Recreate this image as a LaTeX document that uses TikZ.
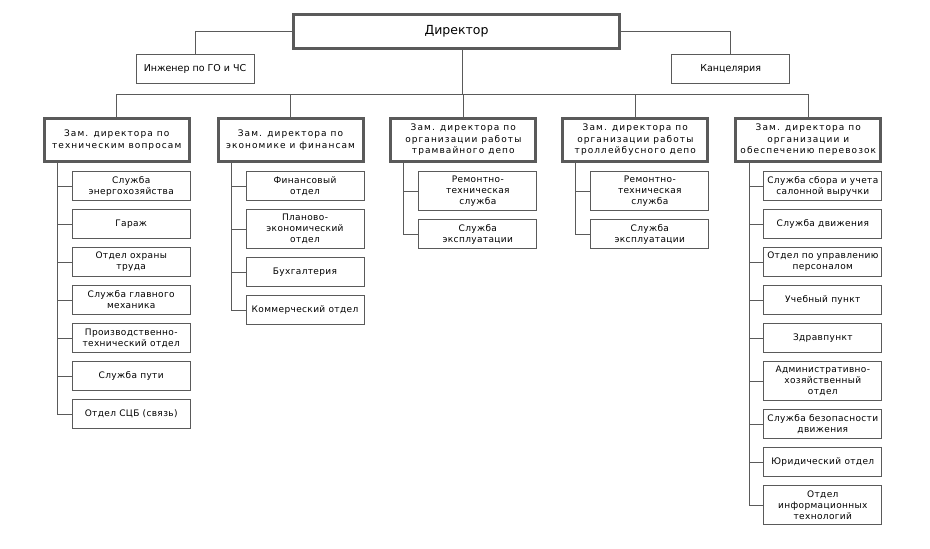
\documentclass[tikz,border=0pt]{standalone}
\usepackage{fontspec}
\setmainfont{DejaVu Sans}
\newfontfamily\depfont{DejaVu Sans}[LetterSpace=12]
\newfontfamily\subfont{DejaVu Sans}[LetterSpace=4]
\usepackage{tikz}
\definecolor{linegray}{HTML}{5A5A5A}

\begin{document}
\begin{tikzpicture}
[x=1pt, y=-1pt, line width=1pt, draw=linegray,
 every node/.style={font=\subfont\fontsize{9}{11}\selectfont, align = center, inner sep=0pt},
 top/.style={draw=linegray, line width=3pt, minimum width=326pt, minimum height=34pt, font=\fontsize{12.5}{14}\selectfont},
 side/.style={draw=linegray, minimum width=118pt, minimum height=29pt, font=\fontsize{9.5}{11}\selectfont},
 dep/.style={draw=linegray, line width=3pt, minimum width=145pt, minimum height=43pt, font=\depfont\fontsize{9}{11.5}\selectfont},
 sub/.style={draw=linegray, minimum width=118pt, minimum height=29pt},
 subtall/.style={sub, minimum height=39pt}]
\fill [white] (0,0) rectangle (930,549);
\node (0) at (456.5,31.3) [top] {Директор};
\node (6) at (195,69.3) [side] {Инженер по ГО и ЧС};
\node (7) at (730.7,69.3) [side] {Канцелярия};
\node (1) at (116.7,139.9) [dep] {Зам. директора по\\
                                  техническим вопросам};
\node (2) at (290.5,139.9) [dep] {Зам. директора по\\
                                  экономике и финансам};
\node (3) at (463.3,139.9) [dep] {Зам. директора по\\
                                  организации работы\\
                                  трамвайного депо};
\node (4) at (635.3,139.9) [dep] {Зам. директора по\\
                                  организации работы\\
                                  троллейбусного депо};
\node (5) at (808.3,139.9) [dep] {Зам. директора по\\
                                  организации и\\
                                  обеспечению перевозок};
% technical
\node (11) at (131.2,186) [sub] {Служба\\ энергохозяйства};
\node (12) at (131.2,224) [sub] {Гараж};
\node (13) at (131.2,262) [sub] {Отдел охраны\\ труда};
\node (14) at (131.2,300) [sub] {Служба главного\\ механика};
\node (15) at (131.2,338) [sub] {Производственно-\\ технический отдел};
\node (16) at (131.2,376) [sub] {Служба пути};
\node (17) at (131.2,414) [sub] {Отдел СЦБ (связь)};
% economics
\node (21) at (305,186) [sub] {Финансовый\\ отдел};
\node (22) at (305,229) [subtall] {Планово-\\ экономический\\ отдел};
\node (23) at (305,272) [sub] {Бухгалтерия};
\node (24) at (305,310) [sub] {Коммерческий отдел};
% tram depot
\node (31) at (477.8,191) [subtall] {Ремонтно-\\ техническая\\ служба};
\node (32) at (477.8,234) [sub] {Служба\\ эксплуатации};
% trolleybus depot
\node (41) at (649.8,191) [subtall] {Ремонтно-\\ техническая\\ служба};
\node (42) at (649.8,234) [sub] {Служба\\ эксплуатации};
% transport
\node (51) at (822.8,186) [sub] {Служба сбора и учета\\ салонной выручки};
\node (52) at (822.8,224) [sub] {Служба движения};
\node (53) at (822.8,262) [sub] {Отдел по управлению\\ персоналом};
\node (54) at (822.8,300) [sub] {Учебный пункт};
\node (55) at (822.8,338) [sub] {Здравпункт};
\node (56) at (822.8,381) [subtall] {Административно-\\ хозяйственный\\ отдел};
\node (57) at (822.8,424) [sub] {Служба безопасности\\ движения};
\node (58) at (822.8,462) [sub] {Юридический отдел};
\node (59) at (822.8,505) [subtall] {Отдел\\ информационных\\ технологий};
% top level lines
\coordinate (bus) at (462,94.3);
\draw (0) -| (6);
\draw (0) -| (7);
\draw (0.south -| bus) -- (bus);
\draw (1) |- (bus) -| (5);
\draw (2) -- (2 |- bus);
\draw (3) -- (3 |- bus);
\draw (4) -- (4 |- bus);
% branch lines
\coordinate (1a) at ([xshift=15pt]1.south west);
\coordinate (2a) at ([xshift=15pt]2.south west);
\coordinate (3a) at ([xshift=14pt]3.south west);
\coordinate (4a) at ([xshift=14pt]4.south west);
\coordinate (5a) at ([xshift=15pt]5.south west);
\draw (1a) |- (11);
\draw (1a) |- (12);
\draw (1a) |- (13);
\draw (1a) |- (14);
\draw (1a) |- (15);
\draw (1a) |- (16);
\draw (1a) |- (17);
\draw (2a) |- (21);
\draw (2a) |- (22);
\draw (2a) |- (23);
\draw (2a) |- (24);
\draw (3a) |- (31);
\draw (3a) |- (32);
\draw (4a) |- (41);
\draw (4a) |- (42);
\draw (5a) |- (51);
\draw (5a) |- (52);
\draw (5a) |- (53);
\draw (5a) |- (54);
\draw (5a) |- (55);
\draw (5a) |- (56);
\draw (5a) |- (57);
\draw (5a) |- (58);
\draw (5a) |- (59);
\end{tikzpicture}
\end{document}
